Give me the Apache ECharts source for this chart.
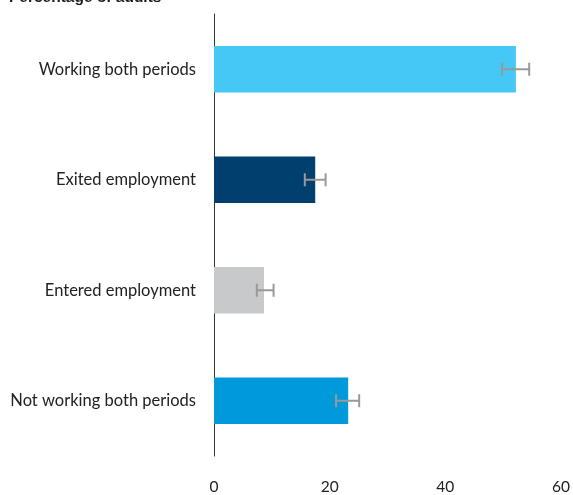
<!DOCTYPE html>
<html><head><meta charset="utf-8">
<script src="https://cdn.jsdelivr.net/npm/echarts@6/dist/echarts.min.js"></script>
<style>html,body{margin:0;padding:0;background:#fff}#c{width:573px;height:495px}</style>
</head><body><div id="c"></div>
<script>
const categories = ["Working both periods", "Exited employment", "Entered employment", "Not working both periods"];
const values = [52.2, 17.5, 8.65, 23.2];
const errLow = [49.8, 15.7, 7.4, 21.1];
const errHigh = [54.5, 19.3, 10.3, 25.1];
const colors = ["#45C8F5", "#003F6E", "#C8C9CB", "#009ADA"];
const xTicks = [0, 20, 40, 60];

const chart = echarts.init(document.getElementById('c'), null, {renderer: 'canvas'});
const font = 'Lato, "Noto Sans", sans-serif';
chart.setOption({
  animation: false,
  graphic: [{
    type: 'text', left: 9, top: -10,
    style: {text: 'Percentage of adults', font: 'bold 15.5px "Liberation Sans", Arial, sans-serif', fill: '#1a1a1a'}
  }],
  grid: {left: 214, right: 11, top: 14, bottom: 37, containLabel: false},
  xAxis: {
    type: 'value', min: 0, max: 60, interval: 20,
    axisLine: {show: false}, axisTick: {show: false}, splitLine: {show: false},
    axisLabel: {color: '#222', fontSize: 15.5, fontFamily: font, margin: 23,
      customValues: xTicks}
  },
  yAxis: {
    type: 'category', inverse: true, data: categories,
    axisLine: {show: true, lineStyle: {color: '#333', width: 1}},
    axisTick: {show: false},
    axisLabel: {color: '#222', fontSize: 16.5, fontFamily: font, margin: 18}
  },
  series: [{
    type: 'bar', barCategoryGap: '58%',
    data: values.map((v, i) => ({value: v, itemStyle: {color: colors[i]}}))
  }, {
    type: 'custom',
    data: categories.map((c, i) => [errLow[i], errHigh[i], i]),
    encode: {x: [0, 1], y: 2},
    renderItem: function (params, api) {
      const y = api.value(2);
      const p1 = api.coord([api.value(0), y]);
      const p2 = api.coord([api.value(1), y]);
      const h = 6.5;
      const st = {stroke: '#999', lineWidth: 2};
      return {type: 'group', children: [
        {type: 'line', shape: {x1: p1[0], y1: p1[1], x2: p2[0], y2: p2[1]}, style: st},
        {type: 'line', shape: {x1: p1[0], y1: p1[1] - h, x2: p1[0], y2: p1[1] + h}, style: st},
        {type: 'line', shape: {x1: p2[0], y1: p2[1] - h, x2: p2[0], y2: p2[1] + h}, style: st}
      ]};
    },
    z: 5
  }]
});
</script></body></html>
